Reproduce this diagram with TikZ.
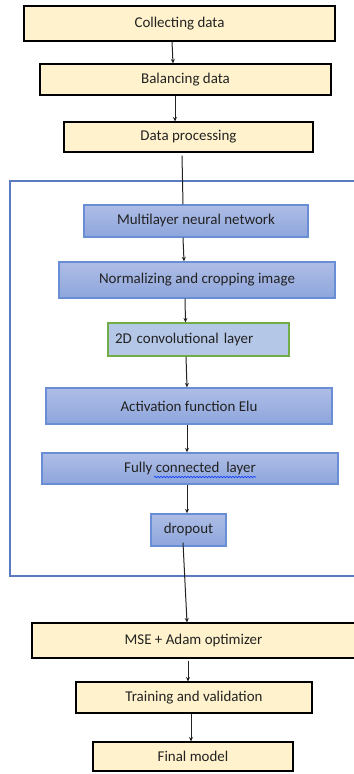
\documentclass[tikz,border=0pt]{standalone}
\usepackage{fontspec}
\setmainfont{Carlito}
\usetikzlibrary{arrows.meta,decorations.pathmorphing}
\definecolor{tanfill}{HTML}{FFF2CC}
\definecolor{bluetop}{HTML}{AEBDE6}
\definecolor{bluebot}{HTML}{8EA6DC}
\definecolor{blueedge}{HTML}{6A8ED6}
\definecolor{convfill}{HTML}{B4C7E7}
\definecolor{convedge}{HTML}{70AD47}
\definecolor{frameblue}{HTML}{5B7BC0}
\definecolor{inkgray}{HTML}{222222}
\tikzset{
  base/.style={rectangle, inner sep=0pt, font=\fontsize{15}{17}\selectfont, text=inkgray},
  tanbox/.style={base, draw=black, line width=1.1pt, fill=tanfill},
  bluebox/.style={base, draw=blueedge, line width=1.4pt, top color=bluetop, bottom color=bluebot},
  convbox/.style={base, draw=convedge, line width=1.2pt, fill=convfill},
  flow/.style={draw=inkgray, line width=1pt, -{Stealth[length=4.5pt,width=4pt]}},
  plainflow/.style={draw=inkgray, line width=1pt},
}
\begin{document}
\begin{tikzpicture}[x=1bp, y=-1bp]
\useasboundingbox (0,0) rectangle (353,774);

% grouping frame (open on the right edge)
\draw[frameblue, line width=1.2pt] (356,181) -- (10,181) -- (10,576) -- (356,576);

% pre-processing stages
\node[tanbox, minimum width=311bp, minimum height=35bp] (collect) at (179.5,23.5) {Collecting data};
\node[tanbox, minimum width=291bp, minimum height=31bp] (balance) at (185.5,79.5) {Balancing data};
\node[tanbox, minimum width=249bp, minimum height=30bp] (process) at (188.5,137) {Data processing};

% network stages
\node[bluebox, minimum width=224bp, minimum height=32bp] (mlp) at (196,221) {Multilayer neural network};
\node[bluebox, minimum width=276bp, minimum height=36bp] (norm) at (197,280) {Normalizing and cropping image};
\node[convbox, minimum width=181bp, minimum height=33bp, text width=167bp, align=left] (conv) at (198.5,339.5) {2D convolutional layer};
\node[bluebox, minimum width=286bp, minimum height=36bp] (elu) at (189,406) {Activation function Elu};
\node[bluebox, minimum width=296bp, minimum height=31bp] (fc) at (190,468.5) {Fully connected\ \ layer};
\node[bluebox, minimum width=75bp, minimum height=32bp] (drop) at (188.5,530) {dropout};

% spell-check underline
\coordinate (wavyA) at (154,477);
\coordinate (wavyB) at (256,477);
\draw[blue!80!cyan, line width=0.6pt, decorate, decoration={snake, amplitude=0.7bp, segment length=3bp}] (wavyA) -- (wavyB);

% training stages
\node[tanbox, minimum width=323bp, minimum height=35bp] (mse) at (193.5,640.5) {MSE + Adam optimizer};
\node[tanbox, minimum width=236bp, minimum height=31bp] (train) at (194,697.5) {Training and validation};
\node[tanbox, minimum width=200bp, minimum height=29bp] (final) at (193,756.5) {Final model};

% connectors
\draw[flow] (collect.south -| 172,0) -- (balance.north -| 173,0);
\draw[flow] (balance.south -| 175,0) -- (process.north -| 175,0);
\draw[plainflow] ([yshift=-3bp]process.south -| 182,0) -- (mlp.north -| 183,0);
\draw[flow] (mlp.south -| 183,0) -- (norm.north -| 184,0);
\draw[flow] (norm.south -| 185,0) -- (conv.north -| 185.5,0);
\draw[flow] (conv.south -| 186,0) -- (elu.north -| 187,0);
\draw[flow] (elu.south -| 187,0) -- (fc.north -| 187,0);
\draw[flow] (fc.south -| 187,0) -- (drop.north -| 187,0);
\draw[flow] ([yshift=4bp]drop.south -| 183,0) -- (mse.north -| 187,0);
\draw[flow] ([yshift=-2bp]mse.south -| 188,0) -- (train.north -| 188,0);
\draw[flow] (train.south -| 191,0) -- (final.north -| 191,0);
\end{tikzpicture}
\end{document}
